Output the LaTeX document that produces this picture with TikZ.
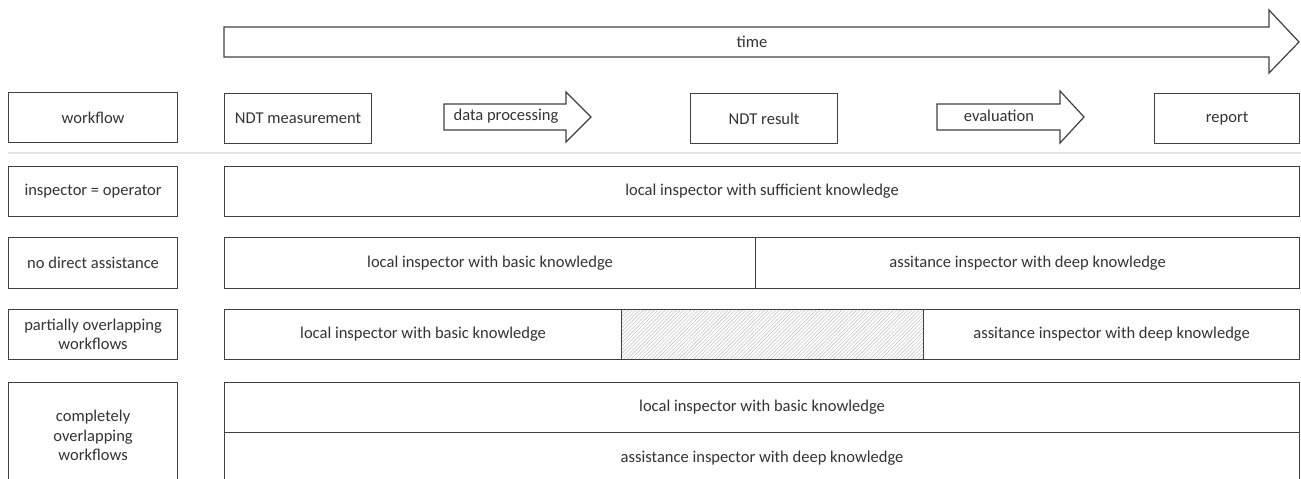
\documentclass[tikz,border=0pt]{standalone}
\usepackage{fontspec}
\setmainfont{Carlito}
\usetikzlibrary{patterns.meta}
\definecolor{ln}{HTML}{404040}
\definecolor{tx}{HTML}{333333}
\definecolor{sep}{HTML}{E4E4E4}
\begin{document}
\begin{tikzpicture}[x=1bp,y=-1bp,
  txt/.style={text=tx, font=\fontsize{16.6}{19.5}\selectfont},
  box/.style={txt, draw=ln, line width=1.2bp, anchor=north west, inner sep=0pt, align=center},
  span/.style n args={4}{box, at={(#1,#2)}, minimum width={(#3-#1)*1bp}, minimum height={(#4-#2)*1bp}},
  blockarrow/.style={draw=ln, line width=1.2bp, line join=miter},
  hatch/.style={fill=gray!8, pattern={Lines[angle=45, distance=2.6bp, line width=0.6bp]}, pattern color=gray!45}]
\useasboundingbox (0,0) rectangle (1301,479);

% time arrow
\draw[blockarrow] (224,27) -- (1269,27) -- (1269,10) -- (1299,42) -- (1269,73) -- (1269,57) -- (224,57) -- cycle;
\node[txt] (time) at (752,42) {time};

% workflow row
\node[span={8}{92}{177}{142}] (wf) {workflow};
\node[span={224}{93}{371}{143}] (meas) {NDT measurement};
\draw[blockarrow] (444,104) -- (566,104) -- (566,92) -- (591,117) -- (566,142) -- (566,130) -- (444,130) -- cycle;
\node[txt] (proc) at (506,116) {data processing};
\node[span={690}{93}{837}{143}] (res) {NDT result};
\draw[blockarrow] (937,104) -- (1060,104) -- (1060,91) -- (1084,117) -- (1060,143) -- (1060,130) -- (937,130) -- cycle;
\node[txt] (eval) at (999,116) {evaluation};
\node[span={1154}{93}{1299}{143}] (rep) {report};

% separator
\coordinate (sepL) at (8,153);
\coordinate (sepR) at (1301,153);
\draw[sep, line width=1.6bp] (sepL) -- (sepR);

% row 1
\node[span={8}{166}{177}{216}] (l1) {inspector = operator};
\node[span={224}{166}{1299}{216}] (m1) {local inspector with sufficient knowledge};

% row 2
\node[span={8}{237}{177}{288}] (l2) {no direct assistance};
\node[span={224}{237}{755}{288}] (m2a) {local inspector with basic knowledge};
\node[span={755}{237}{1299}{288}] (m2b) {assitance inspector with deep knowledge};

% row 3
\node[span={8}{309}{177}{359}] (l3) {partially overlapping\\workflows};
\node[span={224}{309}{621}{359}] (m3a) {local inspector with basic knowledge};
\node[span={621}{309}{923}{359}, hatch] (m3h) {};
\node[span={923}{309}{1299}{359}] (m3b) {assitance inspector with deep knowledge};

% row 4
\node[span={8}{382}{177}{488}] (l4) {completely\\overlapping\\workflows};
\node[span={224}{382}{1299}{432}] (m4a) {local inspector with basic knowledge};
\node[span={224}{432}{1299}{484}] (m4b) {assistance inspector with deep knowledge};
\end{tikzpicture}
\end{document}
